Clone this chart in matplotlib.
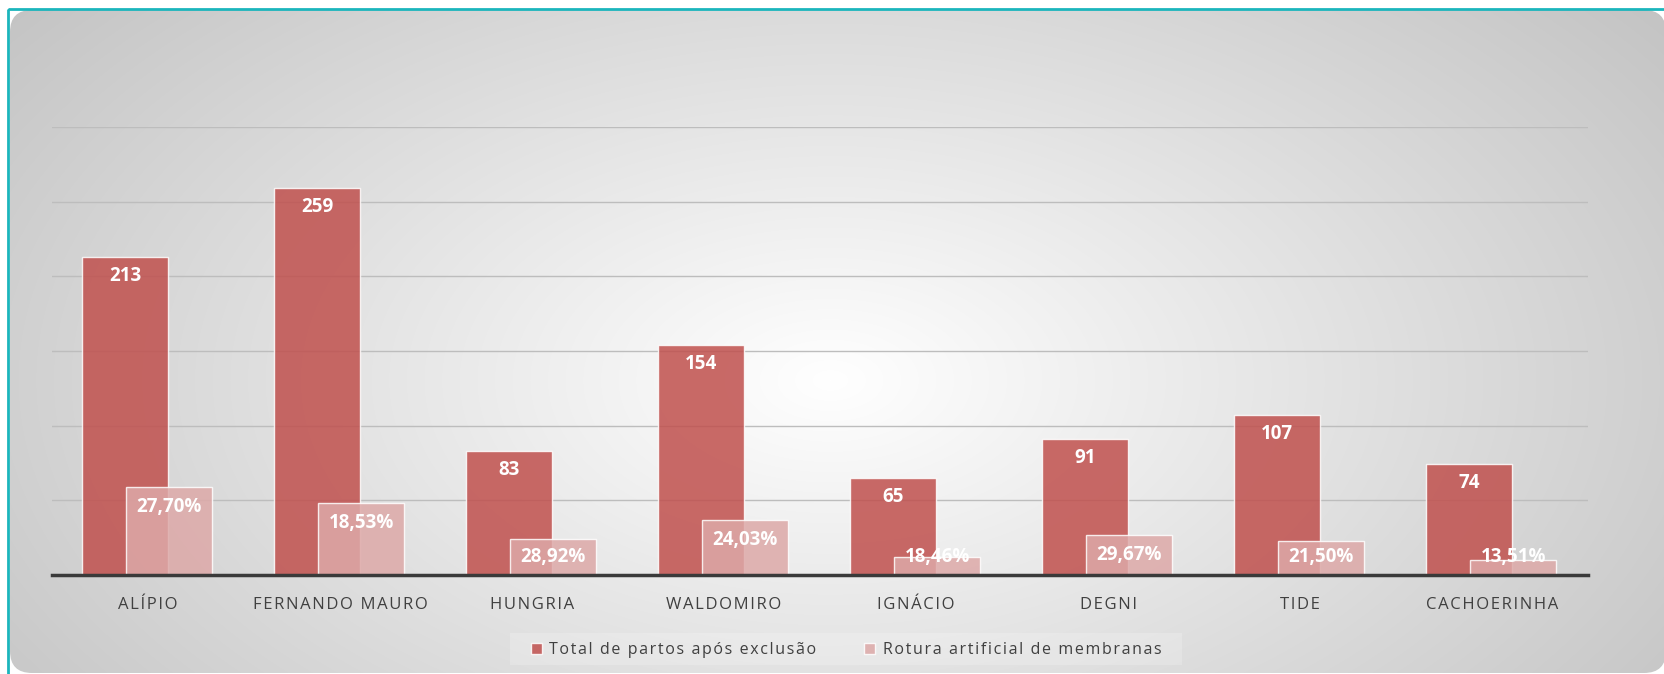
import numpy as np
import matplotlib
matplotlib.use("Agg")
import matplotlib.pyplot as plt
from matplotlib.patches import FancyBboxPatch, Rectangle

plt.rcParams['font.family'] = ['Open Sans', 'DejaVu Sans']

# data
units = ['ALÍPIO', 'FERNANDO MAURO', 'HUNGRIA', 'WALDOMIRO', 'IGNÁCIO',
         'DEGNI', 'TIDE', 'CACHOERINHA']
total = [213, 259, 83, 154, 65, 91, 107, 74]
rotura = [59, 48, 24, 37, 12, 27, 23, 10]
rotura_pct = ['27,70%', '18,53%', '28,92%', '24,03%', '18,46%', '29,67%',
              '21,50%', '13,51%']
series_names = ['Total de partos após exclusão', 'Rotura artificial de membranas']

W, H = 1664, 674
ax_top, ax_bot = 127, 575
ymax = 300
fig = plt.figure(figsize=(W / 100, H / 100), dpi=100)
fig.patch.set_facecolor('white')

# background panel with radial gradient
bg = fig.add_axes([0, 0, 1, 1])
bg.set_xlim(0, W)
bg.set_ylim(H, 0)
bg.axis('off')
yy, xx = np.mgrid[0:H, 0:W]
d = np.sqrt(((xx - 830) / 900.0) ** 2 + ((yy - 380) / 520.0) ** 2)
t = np.clip(d / 1.2, 0, 1)
shade = 1.0 - t * (1.0 - 0.76)
img = np.dstack([shade, shade, shade])
im = bg.imshow(img, extent=(0, W, H, 0), aspect='auto', zorder=1)
panel = FancyBboxPatch((10, 10), W - 8, H - 11, boxstyle='round,pad=0,rounding_size=22',
                       transform=bg.transData, facecolor='none', edgecolor='none')
bg.add_patch(panel)
im.set_clip_path(panel)
bg.add_patch(Rectangle((8, 9), W + 20, H + 20, fill=False, edgecolor='#1BB5BC',
                       lw=2, zorder=3))
# faint legend band
bg.add_patch(Rectangle((510, 633), 672, 32, facecolor='white', alpha=0.2,
                       edgecolor='none', zorder=2))

ax = fig.add_axes([52 / W, 1 - ax_bot / H, (1588 - 52) / W, (ax_bot - ax_top) / H])
ax.patch.set_alpha(0)
x = np.arange(len(units))
bw = 0.45
b1 = ax.bar(x - 0.12, total, bw, color='#C0504D', alpha=0.85,
            edgecolor=(1, 1, 1, 0.2), lw=1, label=series_names[0], zorder=3)
b2 = ax.bar(x + 0.11, rotura, bw, color='#DDA9A8', alpha=0.85,
            edgecolor=(1, 1, 1, 0.3), lw=1, label=series_names[1], zorder=4)

px_per_unit = (ax_bot - ax_top) / ymax


def put_labels(bars, texts, gap):
    for r, s in zip(bars, texts):
        h_px = r.get_height() * px_per_unit
        off = min(gap, h_px - 18)
        ax.annotate(s, (r.get_x() + r.get_width() / 2, r.get_height()),
                    xytext=(0, -off), textcoords='offset pixels', ha='center',
                    va='center', color='white', fontsize=13.5, fontweight='bold',
                    zorder=5)


put_labels(b1, [str(v) for v in total], 19)
put_labels(b2, rotura_pct, 20)

ax.set_xlim(-0.5, len(units) - 0.5)
ax.set_ylim(0, ymax)
ax.set_yticks(np.arange(0, ymax + 1, 50))
ax.yaxis.grid(True, color='#BDBDBD', lw=1)
ax.set_axisbelow(True)
ax.tick_params(axis='y', left=False, labelleft=False)
ax.tick_params(axis='x', bottom=False, pad=12)
ax.set_xticks(x)
# hair spaces give the loose letter spacing of the original
spaced = ['\u200a'.join(u) for u in units]
ax.set_xticklabels(spaced, fontsize=12, color='#404040')
for s in ['top', 'right', 'left']:
    ax.spines[s].set_visible(False)
ax.spines['bottom'].set_color('#3A3A3A')
ax.spines['bottom'].set_linewidth(2.5)
ax.spines['bottom'].set_zorder(6)

fig.legend(handles=[b1, b2], labels=['\u200a'.join(n) for n in series_names],
           loc='center', bbox_to_anchor=(846 / W, 1 - 650 / H),
           ncol=2, frameon=False, fontsize=11.5, handlelength=0.7, handleheight=0.7,
           handletextpad=0.45, columnspacing=3.0, labelcolor='#404040')

fig.savefig('out.png', dpi=100)
